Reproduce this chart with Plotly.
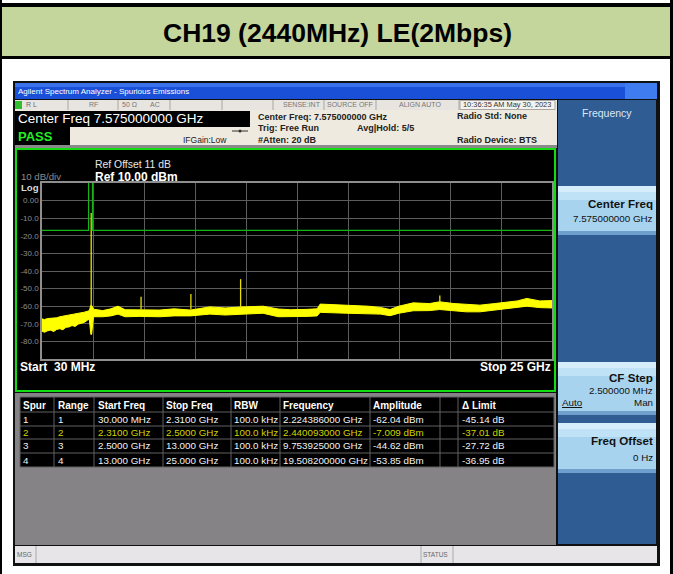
import plotly.graph_objects as go

W, H = 673, 574
FONT = "Liberation Sans, Arial, sans-serif"

# ---------------- data ----------------
start_ghz = 0.03
stop_ghz = 25.0
ref_level_dbm = 10.0
bottom_dbm = -90.0

noise_freq_ghz = [0.03, 0.15, 0.3, 0.45, 0.6, 0.75, 0.9, 1.05, 1.2, 1.35, 1.5, 1.65,
                  1.8, 1.95, 2.1, 2.25, 2.35, 2.42, 2.46, 2.55,
                  3.0, 3.4, 3.75, 4.1, 4.8, 5.8, 6.5, 7.3, 8.25, 9.0, 9.7, 10.85,
                  11.6, 12.2, 13.0, 13.5, 13.65, 14.95, 16.0, 16.6, 17.07, 17.5,
                  18.2, 19.0, 19.5, 20.2, 20.8, 21.47, 22.2, 22.8, 23.3, 23.77,
                  24.4, 25.0]
noise_upper_dbm = [-67.2, -67.6, -67.0, -66.9, -66.4, -66.6, -66.0, -65.7, -65.6, -65.0,
                   -64.9, -64.6, -64.1, -63.8, -63.4, -62.9, -62.5, -59.5,
                   -59.5, -61.7, -62.5, -61.5, -60.0, -62.0, -62.2, -62.2, -61.5, -62.2,
                   -60.4, -61.0, -60.5, -60.0, -61.6, -62.0, -61.8, -61.5, -58.8, -59.4,
                   -60.0, -60.7, -61.9, -60.0, -58.1, -58.5, -57.5, -58.5, -58.8, -59.4,
                   -58.5, -57.5, -57.0, -55.6, -57.0, -56.8]
noise_lower_dbm = [-74.2, -74.8, -74.0, -73.6, -74.4, -73.2, -72.8, -73.4, -72.0, -71.8,
                   -71.0, -71.5, -70.2, -69.6, -69.2, -68.0, -67.4, -76.0,
                   -76.0, -66.0, -66.0, -65.5, -64.5, -66.0, -65.8, -66.0, -65.5, -65.5,
                   -64.5, -65.0, -64.5, -64.0, -66.0, -66.0, -65.8, -65.5, -63.5, -64.0,
                   -64.2, -64.5, -65.4, -64.0, -62.6, -62.5, -61.9, -62.8, -63.2, -63.2,
                   -62.3, -61.3, -61.0, -60.0, -60.8, -61.0]

spur_freq_ghz = [2.440093, 4.88, 7.32, 9.753925, 19.5082]
spur_peak_dbm = [-7.009, -54.6, -53.1, -44.62, -53.85]
spur_base_dbm = [-60.0, -62.0, -62.0, -61.0, -58.0]

limit_freq_ghz = [0.03, 2.31, 2.31, 2.5, 2.5, 25.0]
limit_dbm = [-16.9, -16.9, 30.0, 30.0, -16.9, -16.9]

y_tick_vals = [0, -10, -20, -30, -40, -50, -60, -70, -80]
y_tick_text = ["0.00", "-10.0", "-20.0", "-30.0", "-40.0", "-50.0", "-60.0", "-70.0", "-80.0"]

table_header = ["Spur", "Range", "Start Freq", "Stop Freq", "RBW", "Frequency",
                "Amplitude", "", "\u0394 Limit"]
table_rows = [
    ["1", "1", "30.000 MHz", "2.3100 GHz", "100.0 kHz", "2.224386000 GHz", "-62.04 dBm", "", "-45.14 dB"],
    ["2", "2", "2.3100 GHz", "2.5000 GHz", "100.0 kHz", "2.440093000 GHz", "-7.009 dBm", "", "-37.01 dB"],
    ["3", "3", "2.5000 GHz", "13.000 GHz", "100.0 kHz", "9.753925000 GHz", "-44.62 dBm", "", "-27.72 dB"],
    ["4", "4", "13.000 GHz", "25.000 GHz", "100.0 kHz", "19.508200000 GHz", "-53.85 dBm", "", "-36.95 dB"],
]
highlight_row = 1

# ---------------- helpers ----------------
shapes = []
annotations = []


def rect(x0, y0, x1, y1, fill, line_color=None, lw=0):
    shapes.append(dict(type="rect", xref="paper", yref="paper",
                       x0=x0 / W, x1=x1 / W, y0=1 - y1 / H, y1=1 - y0 / H,
                       fillcolor=fill,
                       line=dict(color=line_color or "rgba(0,0,0,0)", width=lw),
                       layer="below"))


def line(x0, y0, x1, y1, color, lw=1):
    shapes.append(dict(type="line", xref="paper", yref="paper",
                       x0=x0 / W, x1=x1 / W, y0=1 - y0 / H, y1=1 - y1 / H,
                       line=dict(color=color, width=lw), layer="below"))


def text(x, y, s, size, color, bold=False, anchor="left", family=FONT):
    annotations.append(dict(xref="paper", yref="paper", x=x / W, y=1 - y / H,
                            text=s, showarrow=False, xanchor=anchor, yanchor="middle",
                            borderpad=0, borderwidth=0,
                            font=dict(size=size, color=color, family=family,
                                      weight="bold" if bold else "normal")))


# ---------------- page / header ----------------
rect(0, 3, 673, 7, "#000000")
rect(2, 7, 670, 56, "#c4d69c")
rect(0, 56, 673, 59, "#000000")
rect(0, 0, 2, 574, "#000000")
rect(670, 0, 673, 574, "#000000")
text(337, 33, "CH19 (2440MHz) LE(2Mbps)", 26.5, "#000000", bold=True, anchor="center")

# ---------------- instrument frame ----------------
rect(13, 81, 660, 566, "#101010")
rect(15, 83, 657, 99, "#1a50d8")
rect(15, 83, 657, 87, "#3a72ec")
rect(625, 83, 657, 99, "#3f7cf0")
text(18, 91, "Agilent Spectrum Analyzer - Spurious Emissions", 8, "#ffffff")

# status row
rect(15, 100, 557, 110, "#e8e5e0")
rect(15, 101, 22, 109, "#2fbf2f")
for sx in [68, 118, 170, 222, 273, 324, 376, 459]:
    line(sx, 100, sx, 110, "#a9a6a0", 1)
rect(460, 100.5, 555, 109.5, "#f4f2ee", "#a9a6a0", 1)
text(26, 105, "R L", 7, "#666666")
text(93, 105, "RF", 7, "#777777", anchor="center")
text(122, 105, "50 \u03a9", 7, "#777777")
text(150, 105, "AC", 7, "#777777")
text(321, 105, "SENSE:INT", 7, "#777777", anchor="right")
text(327, 105, "SOURCE OFF", 7, "#777777")
text(420, 105, "ALIGN AUTO", 7, "#777777", anchor="center")
text(463, 105, "10:36:35 AM May 30, 2023", 7.4, "#333333")

# info area
rect(15, 110, 557, 145, "#efeadf")
rect(15, 111, 250, 127, "#000000")
rect(15, 127, 70, 145, "#000000")
rect(15, 145, 557, 148, "#8a8a8a")
text(18, 119, "Center Freq 7.575000000 GHz", 13.5, "#ffffff")
text(18, 136, "PASS", 13, "#22ee22", bold=True)
text(183, 140, "IFGain:Low", 8.5, "#222222")
line(232, 131, 248, 131, "#333333", 1)
shapes.append(dict(type="circle", xref="paper", yref="paper",
                   x0=238.5 / W, x1=241.5 / W, y0=1 - 132.5 / H, y1=1 - 129.5 / H,
                   fillcolor="#333333", line=dict(width=0), layer="below"))
text(258, 117, "Center Freq: 7.575000000 GHz", 9, "#222222", bold=True)
text(258, 128, "Trig: Free Run", 9, "#222222", bold=True)
text(258, 140, "#Atten: 20 dB", 9, "#222222", bold=True)
text(357, 128, "Avg|Hold: 5/5", 9, "#222222", bold=True)
text(457, 116, "Radio Std: None", 9, "#222222", bold=True)
text(457, 140, "Radio Device: BTS", 9, "#222222", bold=True)

# graph panel
rect(16, 149, 555, 391, "#000000", "#11dd11", 2)
text(95, 165, "Ref Offset 11 dB", 10.4, "#e8e8e8")
text(95, 177, "Ref 10.00 dBm", 12, "#ffffff", bold=True)
text(21, 176.5, "10 dB/div", 9.6, "#8c8c8c")
text(21, 188, "Log", 9.6, "#d8d8d8", bold=True)
text(20, 367, "Start  30 MHz", 12, "#ffffff", bold=True)
text(551, 367, "Stop 25 GHz", 12, "#ffffff", bold=True, anchor="right")

# lower grey + table
rect(15, 393, 556, 545, "#858385")
rect(20, 397, 554, 467, "#000000")
col_sep = [20, 54, 94, 163, 231, 280, 370, 440, 458, 554]
col_text_x = [23, 58, 98, 166, 234, 283, 373, 441, 462]
row_sep = [397, 412, 426, 439, 453, 467]
for ry in row_sep:
    line(20, ry, 554, ry, "#606060", 1)
for cx in col_sep:
    line(cx, 397, cx, 467, "#606060", 1)
for j, h in enumerate(table_header):
    if h:
        text(col_text_x[j], 405, h, 10, "#ffffff", bold=True)
for i, row in enumerate(table_rows):
    yc = (row_sep[i + 1] + row_sep[i + 2]) / 2
    colr = "#d2d200" if i == highlight_row else "#f2f2f2"
    for j, v in enumerate(row):
        if v:
            text(col_text_x[j], yc, v, 9.8, colr)

# right softkey panel
rect(558, 100, 656, 544, "#2e5c93")
text(607, 113, "Frequency", 10.5, "#dde8f5", anchor="center")


def button(y0, y1):
    rect(558, y0, 656, y1, "#a8d3ee")
    rect(558, y0, 656, y0 + 6, "#d6eefb")
    rect(558, y0 + 6, 656, y0 + 14, "#c0e2f6")
    rect(558, y1 - 4, 656, y1, "#6f9fcc")


button(186, 235)
text(653, 204, "Center Freq", 11.6, "#111111", bold=True, anchor="right")
text(653, 219, "7.575000000 GHz", 9.8, "#111111", anchor="right")
button(362, 415)
text(653, 377, "CF Step", 11.6, "#111111", bold=True, anchor="right")
text(653, 390, "2.500000 MHz", 9.8, "#111111", anchor="right")
text(562, 402, "<u>Auto</u>", 9.8, "#111111")
text(653, 402, "Man", 9.8, "#111111", anchor="right")
button(423, 473)
text(653, 440, "Freq Offset", 11.6, "#111111", bold=True, anchor="right")
text(653, 457, "0 Hz", 9.8, "#111111", anchor="right")

# status bar
rect(15, 546, 657, 563, "#e7e5e8")
for sx in [36, 421, 453]:
    line(sx, 546, sx, 563, "#aaaaaa", 1)
text(17, 554.5, "MSG", 6.5, "#666666")
text(423, 554.5, "STATUS", 6.5, "#666666")

# ---------------- traces ----------------
fig = go.Figure()
fig.add_trace(go.Scatter(x=noise_freq_ghz, y=noise_lower_dbm, mode="lines",
                         line=dict(color="#ffff00", width=1), hoverinfo="skip",
                         showlegend=False))
fig.add_trace(go.Scatter(x=noise_freq_ghz, y=noise_upper_dbm, mode="lines",
                         line=dict(color="#ffff00", width=1), fill="tonexty",
                         fillcolor="#ffff00", hoverinfo="skip", showlegend=False))
sx, sy = [], []
for f, p, b in zip(spur_freq_ghz, spur_peak_dbm, spur_base_dbm):
    sx += [f, f, None]
    sy += [b, p, None]
fig.add_trace(go.Scatter(x=sx, y=sy, mode="lines", line=dict(color="#e8e000", width=1.3),
                         hoverinfo="skip", showlegend=False))
fig.add_trace(go.Scatter(x=limit_freq_ghz, y=limit_dbm, mode="lines",
                         line=dict(color="#16b416", width=1.2), hoverinfo="skip",
                         showlegend=False))

span = stop_ghz - start_ghz
x_grid = [start_ghz + k * span / 10 for k in range(1, 10)]

fig.update_layout(
    width=W, height=H, margin=dict(l=0, r=0, t=0, b=0),
    paper_bgcolor="#ffffff", plot_bgcolor="rgba(0,0,0,0)",
    shapes=shapes, annotations=annotations, showlegend=False,
    xaxis=dict(domain=[42 / W, 552 / W], range=[start_ghz, stop_ghz],
               tickvals=x_grid, showticklabels=False, ticks="",
               showgrid=True, gridcolor="#5c5c5c", gridwidth=1, zeroline=False,
               showline=True, mirror=True, linecolor="#8e8e8e", linewidth=1.5,
               fixedrange=True),
    yaxis=dict(domain=[1 - 359 / H, 1 - 183 / H], range=[bottom_dbm, ref_level_dbm],
               tickvals=y_tick_vals, ticktext=y_tick_text, ticks="",
               tickfont=dict(size=8, color="#8d8d8d", family=FONT),
               showgrid=True, gridcolor="#5c5c5c", gridwidth=1, zeroline=False,
               showline=True, mirror=True, linecolor="#8e8e8e", linewidth=1.5,
               fixedrange=True),
)

fig.write_html("out.html", config={"displayModeBar": False},
               post_script="document.body.style.margin='0';"
                           "document.documentElement.style.overflow='hidden';")
